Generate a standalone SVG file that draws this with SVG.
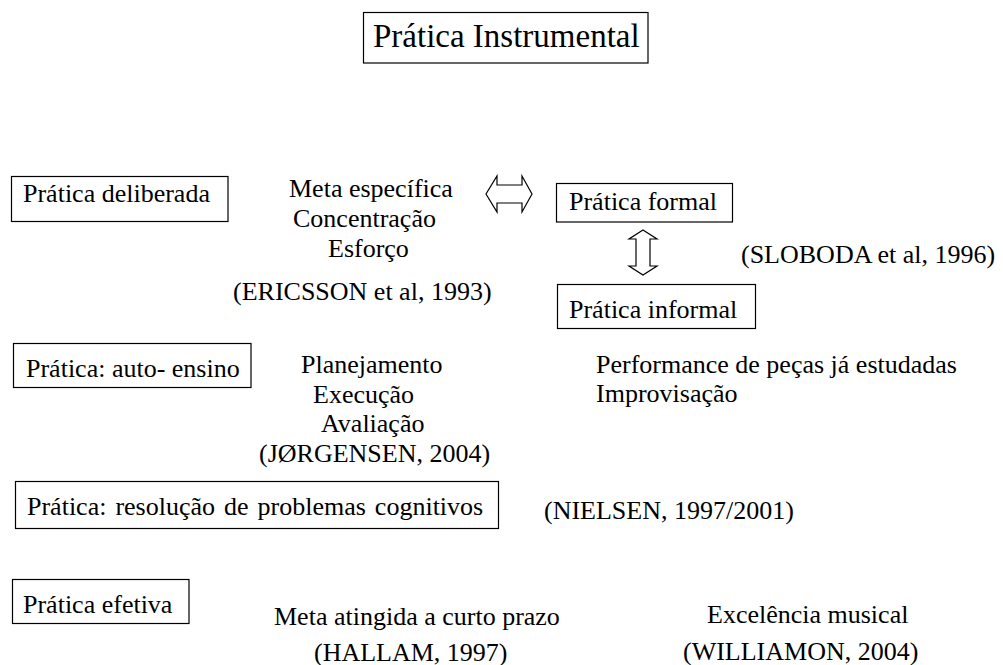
<svg xmlns="http://www.w3.org/2000/svg" width="1003" height="665" viewBox="0 0 1003 665" font-family="'Liberation Serif', 'Times New Roman', serif">
<defs>
<style>
  .bx { fill: #ffffff; stroke: #000000; stroke-width: 1.2; }
  .ar { fill: #ffffff; stroke: #000000; stroke-width: 1.2; stroke-linejoin: miter; }
</style>
</defs>
<rect x="0" y="0" width="1003" height="665" fill="#ffffff"/>

<g id="title">
  <rect class="bx" x="363.5" y="12.5" width="284.5" height="50.5"/>
  <text x="373" y="47" font-size="33">Prática Instrumental</text>
</g>

<g id="connectors">
  <path class="ar" d="M486,194 L497,176 L497,185 L522,185 L522,176 L532,194 L522,212 L522,203 L497,203 L497,212 Z"/>
  <path class="ar" d="M643,230 L657,239 L650,239 L650,266 L657,266 L643,275 L629,266 L636,266 L636,239 L629,239 Z"/>
</g>

<g id="pratica-deliberada" font-size="26">
  <rect class="bx" x="11.5" y="176.5" width="216.5" height="45"/>
  <text x="23" y="202">Prática deliberada</text>
</g>

<g id="deliberada-info" font-size="26">
  <text x="289" y="197">Meta específica</text>
  <text x="293" y="227">Concentração</text>
  <text x="328" y="257">Esforço</text>
  <text x="233" y="300">(ERICSSON et al, 1993)</text>
</g>

<g id="pratica-formal" font-size="26">
  <rect class="bx" x="556.5" y="183.5" width="176" height="38.5"/>
  <text x="569" y="210">Prática formal</text>
</g>

<g id="pratica-informal" font-size="26">
  <rect class="bx" x="557.5" y="284.5" width="198" height="44"/>
  <text x="569" y="318">Prática informal</text>
</g>

<g id="sloboda" font-size="26">
  <text x="741" y="263">(SLOBODA et al, 1996)</text>
</g>

<g id="pratica-auto-ensino" font-size="26">
  <rect class="bx" x="13.5" y="343.5" width="237.5" height="44"/>
  <text x="26" y="377">Prática: auto- ensino</text>
</g>

<g id="auto-ensino-info" font-size="26">
  <text x="301" y="373">Planejamento</text>
  <text x="313" y="403">Execução</text>
  <text x="321" y="432">Avaliação</text>
  <text x="259" y="462">(JØRGENSEN, 2004)</text>
</g>

<g id="informal-info" font-size="26">
  <text x="596" y="373">Performance de peças já estudadas</text>
  <text x="596" y="402">Improvisação</text>
</g>

<g id="pratica-resolucao" font-size="26">
  <rect class="bx" x="15.5" y="481.5" width="483" height="47"/>
  <text x="27" y="515" word-spacing="2.5">Prática: resolução de problemas cognitivos</text>
</g>

<g id="nielsen" font-size="26">
  <text x="544" y="519">(NIELSEN, 1997/2001)</text>
</g>

<g id="pratica-efetiva" font-size="26">
  <rect class="bx" x="12.5" y="579.5" width="176.5" height="44"/>
  <text x="23" y="613">Prática efetiva</text>
</g>

<g id="efetiva-info" font-size="26">
  <text x="274" y="625">Meta atingida a curto prazo</text>
  <text x="314" y="661">(HALLAM, 1997)</text>
</g>

<g id="excelencia" font-size="26">
  <text x="707" y="623">Excelência musical</text>
  <text x="683" y="660">(WILLIAMON, 2004)</text>
</g>
</svg>
